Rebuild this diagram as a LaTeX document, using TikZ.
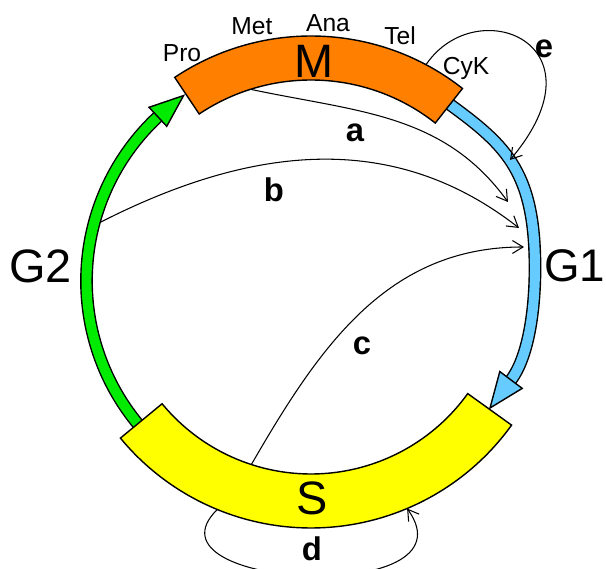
\documentclass[tikz,border=0pt]{standalone}
\usepackage{fontspec}
\setmainfont{Liberation Sans}
\usetikzlibrary{arrows.meta}
\definecolor{mcol}{RGB}{255,128,0}
\definecolor{scol}{RGB}{255,255,0}
\definecolor{gonecol}{RGB}{102,204,255}
\definecolor{gtwocol}{RGB}{0,235,0}
\begin{document}
\begin{tikzpicture}[x=0.03cm,y=0.03cm,
    band/.style={draw,line width=1.2pt},
    shaft/.style={line width=1.2pt,double distance=8.5pt},
    conn/.style={line width=0.9pt,-{Straight Barb[length=9pt,width=11pt]}},
    phase/.style={font=\fontsize{40}{46}\selectfont,inner sep=0pt,anchor=base},
    sub/.style={font=\fontsize{21}{25}\selectfont,inner sep=0pt,anchor=base},
    tag/.style={font=\fontsize{28}{32}\selectfont\bfseries,inner sep=0pt,anchor=base}]
      \useasboundingbox (-311,-288) rectangle (295,281) ;
      % G2 arrow
      \draw[shaft,double=gtwocol] (226:224.5) arc[start angle=226,end angle=133,radius=224.5] ;
      \filldraw[band,fill=gtwocol] (124.5:225) -- (133:211.5) -- (133:237.5) -- cycle ;
      % G1 arrow
      \draw[shaft,double=gonecol] (54:224.5) .. controls (192.7,137.5) and (224,113) .. (224,13)
            .. controls (224,-27) and (218,-75) .. (200,-99) ;
      \filldraw[band,fill=gonecol] (179,-127) -- (211.2,-107.4) -- (188.8,-90.6) -- cycle ;
      % phases
      \filldraw[band,fill=mcol] (51.8:201) arc[start angle=51.8,end angle=123.8,radius=201]
            -- (123.8:245) arc[start angle=123.8,end angle=51.8,radius=245] -- cycle ;
      \filldraw[band,fill=scol] (219.5:193) arc[start angle=219.5,end angle=324.3,radius=193]
            -- (324.3:247) arc[start angle=324.3,end angle=219.5,radius=247] -- cycle ;
      % connectors
      \coordinate (a0) at (107.5:201) ;
      \coordinate (a1) at (197,79) ;
      \coordinate (b0) at (164.5:219) ;
      \coordinate (b1) at (208,53) ;
      \coordinate (c0) at (252:193) ;
      \coordinate (c1) at (213,34) ;
      \coordinate (d0) at (247.7:247) ;
      \coordinate (d1) at (292.9:247) ;
      \coordinate (e0) at (62:245) ;
      \coordinate (e1) at (199,121) ;
      \draw[conn] (a0) to[out=-12,in=126] (a1) ;
      \draw[conn] (b0) to[out=27,in=142] (b1) ;
      \draw[conn] (c0) to[out=60,in=180] (c1) ;
      \draw[conn] (d0) .. controls (-175,-308) and (167,-326) .. (d1) ;
      \draw[conn] (e0) .. controls (165,290) and (298,238) .. (e1) ;
      % labels
      \node[phase] (M) at (3,203) {M} ;
      \node[phase] (S) at (1,-234) {S} ;
      \node[phase,anchor=base west,font=\fontsize{39}{46}\selectfont] (G1) at (233,-1) {G1} ;
      \node[phase,anchor=base east] (G2) at (-239,-2) {G2} ;
      \node[sub] (Pro) at (-129,219) {Pro} ;
      \node[sub] (Met) at (-59,246) {Met} ;
      \node[sub] (Ana) at (17,249) {Ana} ;
      \node[sub] (Tel) at (89,236) {Tel} ;
      \node[sub] (CyK) at (155,206) {CyK} ;
      \node[tag] (la) at (44,139) {a} ;
      \node[tag] (lb) at (-37,79) {b} ;
      \node[tag] (lc) at (51,-74) {c} ;
      \node[tag] (ld) at (1,-280) {d} ;
      \node[tag] (le) at (233,223) {e} ;
    \end{tikzpicture}
\end{document}
